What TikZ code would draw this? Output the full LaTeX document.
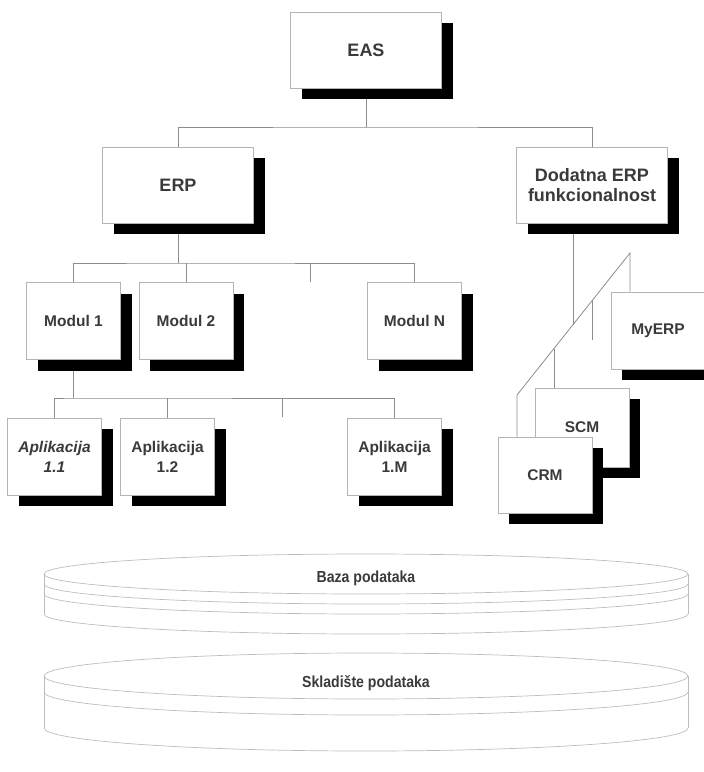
\documentclass[tikz,border=0pt]{standalone}
\usepackage{fontspec}
\setmainfont{Liberation Sans}
\newfontfamily\narrowsans[FakeStretch=0.88]{Liberation Sans}
\usetikzlibrary{shadows,backgrounds,calc}
\definecolor{txtgray}{HTML}{3A3A3A}
\definecolor{boxgray}{HTML}{B4B4B4}
\definecolor{linkgray}{HTML}{8C8C8C}
\definecolor{diskgray}{HTML}{BDBDBD}
\begin{document}
\begin{tikzpicture}[x=1pt,y=-1pt,
    every node/.style={text=txtgray,inner sep=0pt},
    box/.style={draw=boxgray,fill=white,line width=.6pt,align=center,
      drop shadow={shadow xshift=11pt,shadow yshift=-11pt,fill=black,opacity=1}},
    bigbox/.style={box,minimum width=151pt,minimum height=76pt,font=\fontsize{18}{20}\selectfont\bfseries},
    smallbox/.style={box,minimum width=94pt,minimum height=77pt,font=\fontsize{15.5}{20}\selectfont\bfseries},
    link/.style={draw=linkgray,line width=.8pt},
    disk/.style={draw=diskgray,line width=.7pt},
    disklabel/.style={font=\narrowsans\fontsize{16}{18}\selectfont\bfseries}]
  \useasboundingbox (0,0) rectangle (704,772);
  \node [bigbox] (eas) at (366,50) {EAS};
  \node [bigbox] (erp) at (178,185) {ERP};
  \node [bigbox] (dodatna) at (592,185) {Dodatna ERP\\funkcionalnost};
  \node [smallbox] (m1) at (73.5,321) {Modul 1};
  \node [smallbox] (m2) at (186,321) {Modul 2};
  \node [smallbox] (mN) at (414.5,321) {Modul N};
  \node [smallbox] (a11) at (54.5,456.5) {\textit{Aplikacija}\\\textit{1.1}};
  \node [smallbox] (a12) at (167.5,456.5) {Aplikacija\\1.2};
  \node [smallbox] (a1M) at (394.5,456.5) {Aplikacija\\1.M};
  \node [smallbox] (myerp) at (658,330.5) {MyERP};
  \node [smallbox,minimum height=79pt] (scm) at (582,427.5) {SCM};
  \node [smallbox,minimum height=76pt] (crm) at (545,475) {CRM};
  % connectors
  \coordinate (eas bus) at (366,127);
  \coordinate (erp bus) at (178,263);
  \coordinate (m dots) at (310,282);
  \coordinate (app bus) at (0,398);
  \coordinate (a dots) at (282,417);
  \coordinate (dtop) at (630,253);
  \coordinate (dbot) at (517,395);
  \coordinate (dj) at ($(dtop)!0.504!(dbot)$);
  \coordinate (dt) at ($(dtop)!0.336!(dbot)$);
  \coordinate (ds) at ($(dtop)!0.673!(dbot)$);
  \coordinate (r dots) at (592,340);
  \begin{pgfonlayer}{background}
    \draw [link] (eas) -- (eas bus);
    \draw [link] (erp.north) |- (eas bus) -| (dodatna.north);
    \draw [link] (erp) -- (erp bus);
    \draw [link] (m1.north) |- (erp bus) -| (mN.north);
    \draw [link] (m2.north) -- (m2.north |- erp bus);
    \draw [link] (m dots) -- (m dots |- erp bus);
    \draw [link] (m1) -- (m1 |- app bus);
    \draw [link] (a11.north) |- (m1 |- app bus) -| (a1M.north);
    \draw [link] (a12.north) -- (a12.north |- app bus);
    \draw [link] (a dots) -- (a dots |- app bus);
    \draw [link] (dj) -- (dj |- dodatna.south);
    \draw [link] (dtop |- myerp.north) -- (dtop) -- (dbot) -- (dbot |- crm.north);
    \draw [link] (dt) -- (dt |- r dots);
    \draw [link] (ds) -- (ds |- scm.north);
  \end{pgfonlayer}
  % Baza podataka
  \draw [disk] (366,574) ellipse [x radius=322pt,y radius=20pt];
  \foreach \y in {584,594,614}
    \draw [disk] (44,\y) arc [start angle=180,end angle=360,x radius=322pt,y radius=20pt];
  \draw [disk] (44,574) -- (44,614) (688,574) -- (688,614);
  \node [disklabel] (baza) at (366,578) {Baza podataka};
  % Skladiste podataka
  \draw [disk] (366,676) ellipse [x radius=322pt,y radius=23pt];
  \foreach \y in {692,728}
    \draw [disk] (44,\y) arc [start angle=180,end angle=360,x radius=322pt,y radius=23pt];
  \draw [disk] (44,676) -- (44,728) (688,676) -- (688,728);
  \node [disklabel] (skladiste) at (366,683) {Skladište podataka};
\end{tikzpicture}
\end{document}
